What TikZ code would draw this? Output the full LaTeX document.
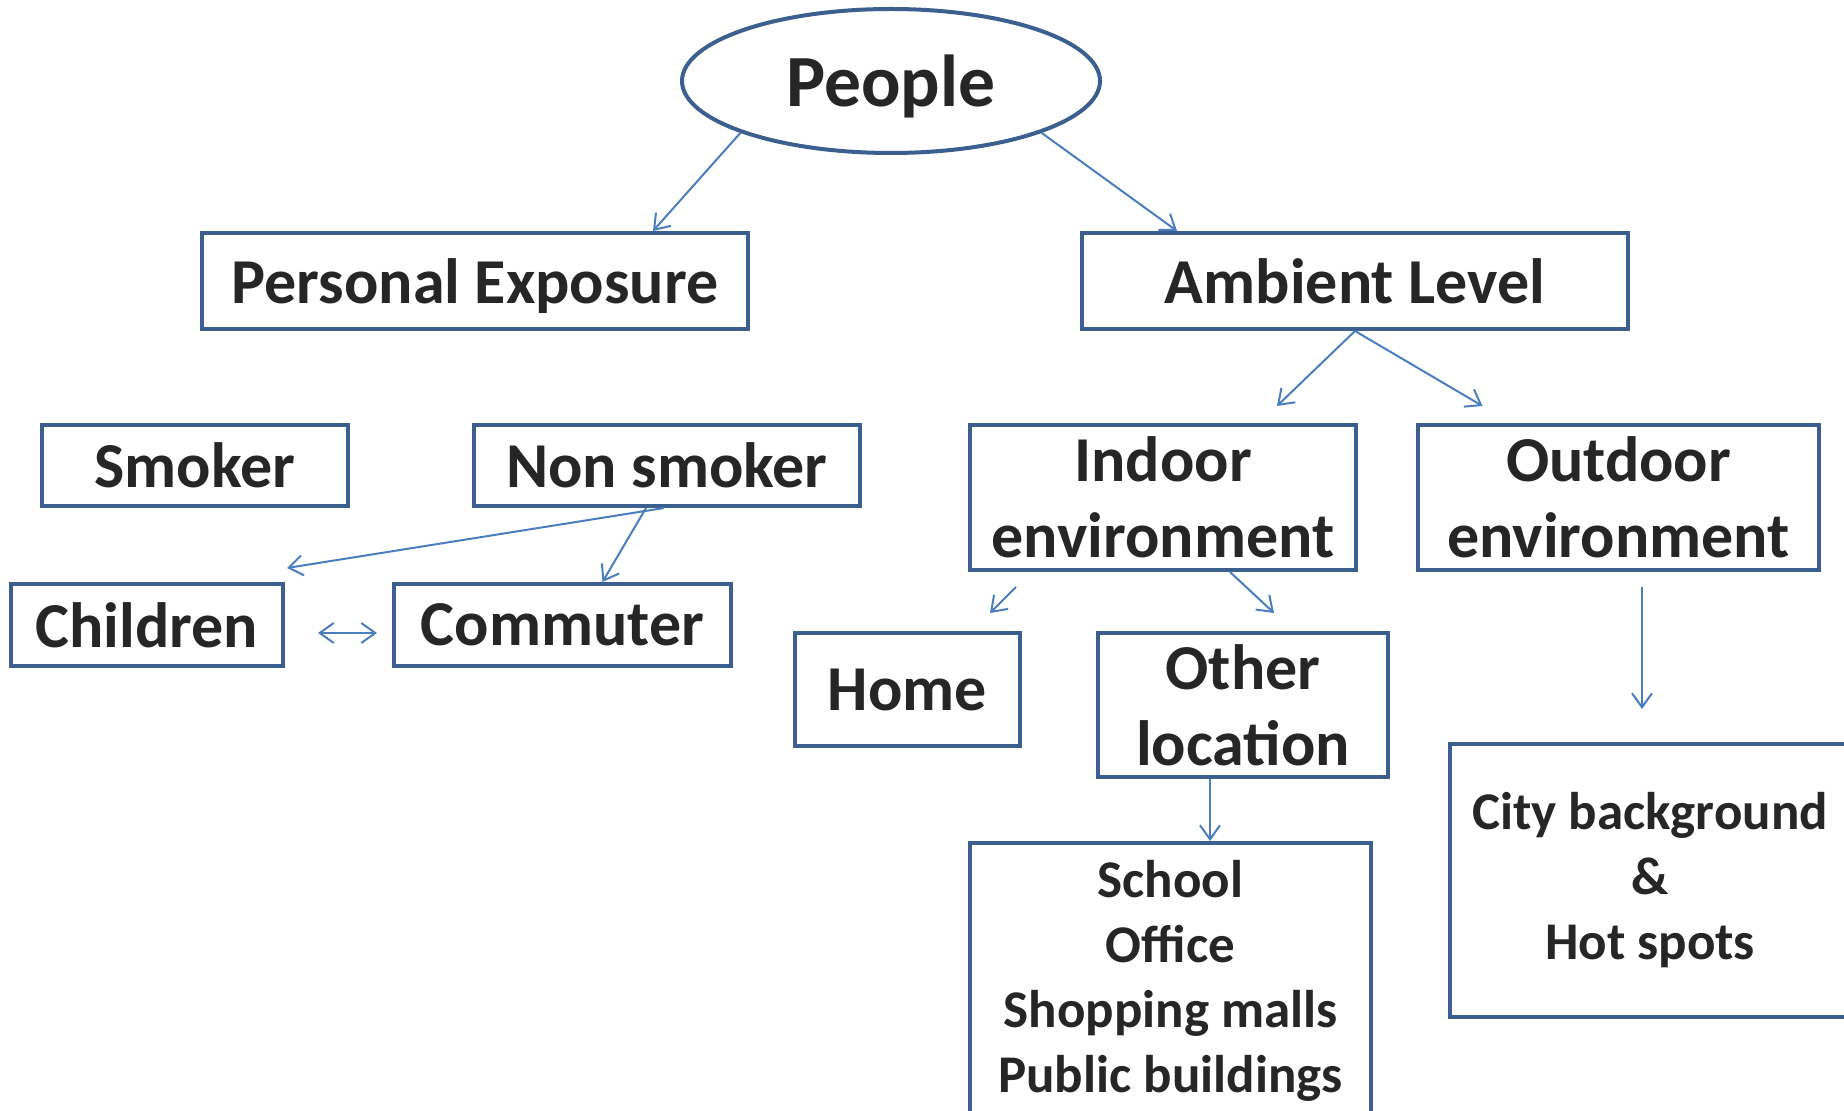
\documentclass[tikz,border=0pt]{standalone}
\usepackage{fontspec}
\setmainfont{Carlito}
\usetikzlibrary{arrows.meta,shapes.geometric,calc}
\definecolor{boxblue}{HTML}{3B5F8E}
\definecolor{arrowblue}{HTML}{4A7EBF}
\definecolor{ink}{HTML}{262626}

\begin{document}
\begin{tikzpicture}[x=0.5pt,y=-0.5pt,
  box/.style={draw=boxblue, line width=2pt, rectangle, inner sep=0pt,
    align=center, text=ink, font=\bfseries\fontsize{32}{38}\selectfont},
  smallbox/.style={box, font=\bfseries\fontsize{26.5}{32.5}\selectfont},
  oval/.style={draw=boxblue, line width=2pt, ellipse, inner sep=0pt,
    text=ink, font=\bfseries\fontsize{36.8}{44}\selectfont},
  link/.style={draw=arrowblue, line width=1pt,
    -{Straight Barb[length=7pt,width=10pt,line width=1pt]}},
  twoway/.style={draw=arrowblue, line width=1pt,
    {Straight Barb[length=7pt,width=10pt,line width=1pt]}-{Straight Barb[length=7pt,width=10pt,line width=1pt]}}]

\useasboundingbox (0,0) rectangle (1844,1111);
\clip (0,0) rectangle (1844,1111);
\fill[white] (0,0) rectangle (1844,1111);

% top of the hierarchy
\node[oval, text depth=0pt, minimum width=209pt, minimum height=72pt] (ppl) at (891,81) {People};

% second level
\node[box, text depth=0pt, minimum width=273pt, minimum height=48pt] (pe)  at (475,281)  {Personal Exposure};
\node[box, minimum width=273pt, minimum height=48pt] (amb) at (1355,281) {Ambient Level};

% personal exposure branch
\node[box, minimum width=153pt, minimum height=40.5pt] (smk) at (195,465.5) {Smoker};
\node[box, minimum width=193pt, minimum height=40.5pt] (nsm) at (667,465.5) {Non smoker};
\node[box, minimum width=136pt, minimum height=41pt] (chd) at (147,625) {Children};
\node[box, minimum width=168.5pt, minimum height=41pt] (com) at (562.5,625) {Commuter};

% ambient level branch
\node[box, minimum width=193pt, minimum height=72.5pt] (ind) at (1163,497.5) {Indoor\\environment};
\node[box, minimum width=200.5pt, minimum height=72.5pt] (out) at (1618.5,497.5) {Outdoor\\environment};
\node[box, minimum width=112.5pt, minimum height=56.5pt] (home) at (907.5,689.5) {Home};
\node[box, minimum width=145pt, minimum height=72pt] (oth) at (1243,705) {Other\\location};
\node[smallbox, minimum width=200.5pt, minimum height=138pt] (sch) at (1170.5,981)
  {School\\Office\\Shopping malls\\Public buildings};
\node[smallbox, minimum width=200pt, minimum height=136.5pt] (city) at (1650,880.5)
  {City background\\\&\\Hot spots};

% connectors
\draw[link] (ppl.199) -- ($(pe.north)+(178,0)$);
\draw[link] (ppl.341) -- ($(amb.north)+(-178,0)$);
\draw[link] (amb.south) -- ($(ind.north)+(114,-17)$);
\draw[link] (amb.south) -- ($(out.north)+(-136,-17)$);
\draw[link] ($(nsm.south)+(-3,0)$) -- ($(chd.north east)+(2,-14)$);
\draw[link] ($(nsm.south)+(-21,0)$) -- ($(com.north)+(40,0)$);
\draw[twoway] ($(chd.east)+(33,8)$) -- ($(com.west)+(-15,8)$);
\draw[link] ($(ind.south west)+(48,15)$) -- ($(home.north east)+(-32,-18)$);
\draw[link] ($(ind.south)+(67,0)$) -- ($(oth.north)+(31,-18)$);
\draw[link] ($(out.south)+(23.5,15)$) -- ($(city.north)+(-8,-33)$);
\draw[link] ($(oth.south)+(-33,0)$) -- ($(sch.north)+(39.5,0)$);
\end{tikzpicture}
\end{document}
